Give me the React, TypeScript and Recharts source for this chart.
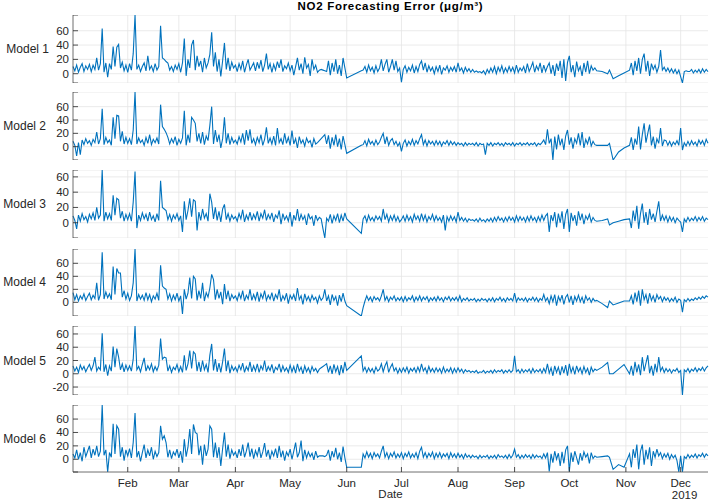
import React from 'react';
import { LineChart, Line, XAxis, YAxis, CartesianGrid, ReferenceLine } from 'recharts';

// ---------- time stamps (day of 2019, Jan 1 = 0) ----------
const range = (a: number, b: number) => {
  const r: number[] = [];
  for (let i = a; i <= b; i++) r.push(i);
  return r;
};
const days: number[] = [
  ...range(1, 150),
  151, 159,
  ...range(160, 288),
  291, 294, 295, 297, 300, 303,
  ...range(306, 349),
];

const monthTicks = [31, 59, 90, 120, 151, 181, 212, 243, 273, 304, 334];
const monthLabels = ['Feb', 'Mar', 'Apr', 'May', 'Jun', 'Jul', 'Aug', 'Sep', 'Oct', 'Nov', 'Dec'];

// ---------- forecasting errors (µg/m³) ----------
const model1 = [
  10, 4, 12, 2, 9, 14, 3, 11, 6, 13,
  3, 12, 6, 22, 5, 14, 63, 2, 15, -5,
  14, 6, 38, 10, 37, 41, 8, 16, 4, 12,
  2, 14, 5, 28, 82, 6, 12, 3, 10, 15,
  4, 25, 6, 11, 3, 14, 5, 10, 67, 22,
  20, 17, 15, 5, 10, 3, 12, 6, 14, 2,
  15, 49, -3, 20, 8, 40, 47, 5, 25, 10,
  18, 2, 22, 8, 15, 27, 58, 10, 30, 3,
  20, -4, 18, 43, 6, 22, 4, 16, 8, 12,
  3, 14, 6, 18, 2, 12, 20, 5, 10, 15,
  4, 16, 7, 19, 3, 12, 28, 6, 14, 2,
  13, 5, 17, 8, 20, 3, 11, 7, 15, 4,
  12, -2, 10, 22, 5, 14, 0, 23, 8, 13,
  -3, 20, 6, 12, 2, 5, 6, 5, 4, 3,
  18, -2, 15, 3, 20, 0, 12, -3, 22, 8,
  -6, 4,
  5, 10, 2, 12, 4, 9, 1, 11, 3, 8,
  20, 4, 13, 20, 2, 10, 20, 5, 18, 3,
  8, -12, 6, 11, 2, 9, 4, 12, 1, 10,
  3, 13, 18, 5, 15, 2, 11, 4, 9, 0,
  10, 3, 12, -1, 8, 5, 11, 2, 9, 4,
  10, 2, 15, 4, 8, 1, 9, 3, 7, 2,
  6, 2, 4, 2, 3, 1, 4, -1, 6, 1,
  8, 2, 10, 0, 9, 3, 11, 1, 8, 2,
  10, 3, 9, 1, 12, 2, 8, 4, 10, 1,
  14, 3, 9, 16, 2, 11, 5, 15, 1, 12,
  3, 10, 15, 0, 12, -3, 14, 4, 18, -6,
  20, -10, 16, 25, 2, 12, -5, 17, 4, 10,
  -3, 15, 2, 18, 0, 11, 5, 8, 4,
  3, 0, 5, -7, -3, 1,
  5, 15, -2, 18, 4, 22, 0, 20, 28, 3,
  18, -3, 14, 6, 12, 2, 10, 33, 5, 9,
  3, 8, 2, 7, 1, 6, 0, 5, -4, -13,
  3, 4, 3, 3, 6, 1, 5, 2, 6, 1,
  7, 2, 6, 3,
];

const model2 = [
  8, 2, -14, 6, -12, 10, 3, 12, 5, 9,
  2, 11, 6, 22, 4, 12, 57, 3, 14, 6,
  10, 2, 44, 12, 47, 46, 8, 23, 4, 14,
  5, 12, 3, 25, 82, 4, 13, 6, 10, 2,
  14, 5, 18, 3, 11, 6, 13, 4, 63, 30,
  26, 21, 14, 4, 12, 6, 15, 2, 11, 5,
  13, 54, 2, 18, 6, 44, 40, 35, 8, 20,
  5, 22, 3, 16, 9, 32, 60, 4, 25, 7,
  18, -2, 12, 44, 5, 20, 3, 14, 6, 10,
  4, 15, 7, 20, 3, 25, 9, 26, 5, 12,
  3, 14, 6, 18, 2, 11, 29, 5, 13, 4,
  16, 2, 28, 6, 12, 3, 20, 5, 14, 2,
  24, 4, 12, -2, 15, 5, 10, 1, 13, 6,
  9, -1, 12, 4, 6, 9, 12, 15, 18, 4,
  17, -3, 14, 2, 18, 0, 12, -4, 16, 3,
  -10, 2,
  3, 9, 1, 11, 4, 8, 2, 10, 3, 7,
  14, 20, 4, 15, 2, 9, 12, 3, 8, 1,
  6, -7, 5, 10, 1, 8, 3, 11, 2, 9,
  4, 12, 18, 3, 10, 1, 9, 4, 8, 2,
  9, 3, 8, 1, 7, 4, 9, 2, 8, 3,
  7, 2, 6, 3, 5, 1, 6, 2, 5, 3,
  5, 2, 6, 1, 5, 3, 4, -12, 5, 2,
  6, 1, 5, 3, 6, 2, 5, 1, 6, 3,
  5, 2, 6, 1, 5, 3, 6, 2, 5, 3,
  6, 2, 5, 3, 6, 1, 5, 3, 6, 10,
  3, 26, 5, 12, -20, 15, -4, 18, 2, 12,
  -5, 16, 25, 3, 14, -3, 12, 5, 20, 2,
  22, -2, 11, 4, 15, 1, 8, 3, 2,
  2, 2, 5, -20, -8, -2,
  2, 14, -5, 12, 3, 30, -4, 18, 35, 6,
  20, 33, 2, 15, -3, 12, 5, 28, 1, 10,
  9, 2, 8, 1, 7, 3, 9, 2, 28, -5,
  6, 1, 8, 2, 9, 3, 7, 1, 10, 4,
  9, 2, 11, 5,
];

const model3 = [
  9, 3, -8, 10, 2, 12, 4, 8, 1, 11,
  5, 13, 3, 20, 6, 10, 69, 2, 14, 5,
  12, 3, 36, 10, 32, 30, 6, 15, 2, 11,
  4, 12, 2, 27, 67, -7, 10, 3, 13, 5,
  11, 2, 14, 4, 9, 1, 12, 3, 55, 20,
  18, 16, 4, 11, 2, 10, 5, 12, 3, 9,
  -12, 28, 4, 16, 32, 8, 30, 28, -10, 14,
  3, 18, 6, 12, 2, 38, 27, 5, 20, 3,
  15, 1, 18, 24, 4, 12, 2, 10, 5, 8,
  2, 12, 5, 17, 1, 10, 4, 14, 3, 11,
  5, 15, 2, 12, 6, 17, 3, 11, 5, 13,
  1, 10, 6, 16, -2, 12, 4, 9, 2, 14,
  -5, 10, 3, 18, 2, 11, 4, 9, -3, 12,
  5, 8, -4, 10, 3, 7, 5, -8, -20, 6,
  2, 11, -1, 9, 3, 12, 0, 10, 2, 13,
  5, -14,
  5, 9, 1, 10, 3, 7, 2, 9, 4, 8,
  2, 18, 4, 11, 1, 9, 3, 10, 2, 8,
  1, 4, 9, 2, 10, 3, 8, 1, 11, 4,
  9, 2, 12, 3, 10, 1, 8, 4, 11, 2,
  9, 3, 7, 1, 10, -10, 8, 2, 9, 3,
  8, 1, 14, 3, 7, 2, 6, 1, 5, 3,
  4, 2, 5, 1, 6, 2, 4, 1, 5, 2,
  6, 1, 7, 2, 8, 3, 6, 1, 7, 2,
  8, 3, 7, 1, 9, 2, 8, 3, 7, 1,
  8, 2, 9, 3, 7, 1, 8, 2, 10, 3,
  9, 12, -12, 10, 2, 14, -6, 12, 0, 15,
  -8, 11, 18, -12, 13, 2, 10, -4, 15, 3,
  12, -2, 9, 4, 11, 1, 7, 3, 2,
  3, 5, -3, 0, 2, 4,
  5, -7, 16, 2, 22, -8, 12, 25, 0, 14,
  -3, 18, 4, 12, 1, 15, 28, 2, 10, 3,
  9, 1, 8, 2, 7, 0, 6, 3, 1, -12,
  5, 1, 7, 2, 6, 3, 8, 2, 7, 3,
  8, 2, 6, 4,
];

const model4 = [
  15, 4, 12, 2, 10, 5, 13, 3, 9, 14,
  4, 11, 6, 30, 3, 12, 77, 5, 16, 7,
  13, 4, 55, 12, 52, 45, 45, 8, 18, 5,
  14, 3, 10, 30, 82, 2, 12, 5, 11, 3,
  15, 4, 12, 1, 10, 5, 14, 3, 57, 25,
  22, 20, 5, 13, 2, 11, 4, 14, 2, 10,
  -18, 20, 5, 14, 38, 6, 40, 36, 3, 18,
  6, 30, 2, 15, 8, 22, 43, 35, 4, 20,
  6, 16, -3, 28, 5, 18, 2, 12, 6, 10,
  3, 14, 6, 18, 2, 11, 5, 20, 3, 12,
  4, 16, 1, 13, 6, 18, 3, 11, 5, 15,
  2, 12, 6, 20, 1, 10, 4, 14, -2, 11,
  5, 12, 2, 22, 4, 10, -3, 13, 3, 9,
  1, 11, 4, 8, -1, 10, 3, 7, 20, 2,
  10, -4, 12, 3, 9, -5, 11, 1, 14, 2,
  -5, -21,
  -8, 2, 10, 3, 8, 1, 9, 4, 7, 2,
  10, 20, 3, 9, 1, 8, 4, 10, 2, 7,
  3, 8, 1, 9, 2, 7, 4, 10, 1, 8,
  3, 10, 2, 8, 4, 9, 1, 7, 3, 8,
  2, 9, 3, 7, 1, 8, 4, 9, 2, 7,
  3, 8, 2, 10, 1, 6, 3, 7, 2, 5,
  3, 6, 1, 5, 2, 6, 3, 5, 1, 6,
  2, 7, 1, 6, 3, 8, 2, 6, 1, 7,
  3, 6, 2, 14, 1, 7, 3, 6, 2, 7,
  1, 6, 3, 8, 2, 7, 1, 6, 3, 12,
  2, 7, -2, 10, 1, 12, -5, 9, 2, 11,
  -3, 8, 12, 0, 10, -4, 9, 2, 11, 1,
  8, -2, 10, 3, 7, 0, 6, 2, 3,
  -2, -8, 2, -4, -1, 2,
  2, 10, -3, 15, 1, 18, -5, 20, 4, 12,
  -2, 14, 3, 10, 0, 12, 5, 9, 1, 8,
  3, 7, 1, 6, 2, 8, 0, 5, 3, -15,
  4, 1, 6, 2, 5, 3, 7, 4, 8, 5,
  9, 6, 10, 8,
];

const model5 = [
  12, 4, 10, 2, 13, 6, 11, 3, 9, 14,
  5, 12, 25, 4, 10, 6, 61, 3, 14, -3,
  12, 4, 41, 10, 38, 25, 6, 15, 3, 13,
  5, 12, 4, 22, 72, 6, 11, 3, 14, 24,
  4, 12, 6, 15, 3, 11, 5, 13, 53, 22,
  25, 24, 4, 12, 2, 10, 6, 14, 3, 11,
  2, 28, 5, 15, 35, 8, 33, 30, 4, 18,
  3, 20, 6, 14, 2, 28, 45, 5, 22, 3,
  16, 2, 18, 38, 4, 20, 1, 12, 5, 10,
  3, 13, 6, 16, 2, 11, 5, 18, 3, 12,
  4, 15, 2, 12, 6, 20, 3, 11, 5, 14,
  1, 10, 6, 15, 2, 12, 4, 9, 2, 13,
  3, 11, 1, 15, 4, 10, 0, 12, 3, 9,
  1, 11, 4, 8, 2, 7, 9, 11, 13, 15,
  2, 12, 0, 14, 3, 11, -2, 13, 1, 18,
  5, 27,
  4, 10, 2, 9, 3, 8, 1, 10, 4, 7,
  15, 3, 12, 18, 2, 10, 15, 4, 9, 1,
  8, 2, 9, 3, 10, 1, 8, 4, 9, 2,
  10, 3, 15, 4, 9, 1, 11, 3, 8, 2,
  9, 3, 8, 1, 10, 2, 7, 3, 9, 1,
  8, 2, 9, 3, 7, 1, 6, 3, 5, 2,
  4, 2, 5, 1, 3, 2, 5, 1, 4, 2,
  5, 1, 6, 2, 5, 3, 6, 1, 5, 2,
  6, 2, 5, 27, 3, 6, 1, 7, 2, 6,
  3, 7, 1, 8, 2, 6, 3, 7, 1, 8,
  2, 15, 1, 9, -3, 12, 2, 10, -2, 11,
  1, 13, -3, 15, 2, 10, -1, 12, 3, 9,
  0, 11, 2, 8, -2, 10, 3, 7, 5,
  10, 17, 0, 0, 7, 14,
  0, 12, -3, 18, 2, 14, -2, 25, 4, 16,
  28, 1, 12, -3, 15, 2, 25, 4, 10, 2,
  8, 3, 7, 1, 6, 4, 8, 2, 5, -32,
  6, 3, 8, 2, 7, 4, 9, 3, 8, 5,
  10, 4, 9, 12,
];

const model6 = [
  8, 2, 14, 0, 10, -3, 18, 4, 12, 20,
  2, 15, 6, 20, 4, 12, 81, 6, 14, -19,
  10, 3, 53, 8, 50, 45, 4, 18, -2, 14,
  5, 16, 2, 25, 69, 3, 12, -3, 10, 22,
  2, 14, 5, 18, 0, 12, 4, 10, 50, 30,
  35, 25, 3, 14, 1, 11, 6, 15, 2, 12,
  -5, 30, 4, 18, 45, 8, 52, 40, 38, 6,
  20, -8, 22, 5, 15, 50, 45, 3, 25, 2,
  18, -10, 16, 40, 4, 22, 1, 14, 6, 11,
  2, 15, 5, 22, 3, 12, 25, 4, 16, 1,
  13, 5, 18, 2, 11, 24, 4, 14, 0, 12,
  5, 16, 2, 20, 3, 13, -2, 11, 5, 15,
  0, 12, 25, 3, 10, 28, -3, 14, 2, 11,
  4, 9, -1, 12, 3, 5, 5, 5, 4, 6,
  14, -2, 12, 3, 17, 0, 10, -4, 19, 2,
  -12, -12,
  8, 2, 11, 3, 9, 1, 10, 4, 8, 2,
  12, 20, 3, 10, 1, 9, 4, 11, 2, 8,
  3, 10, 1, 9, 4, 11, 2, 8, 3, 10,
  1, 12, 18, 3, 10, 2, 9, 4, 11, 1,
  9, 3, 10, 2, 8, 4, 9, 1, 10, 3,
  8, 2, 9, 3, 7, 1, 8, 3, 6, 2,
  6, 3, 5, 1, 6, 2, 5, 3, 6, 1,
  5, 2, 6, 1, 7, 3, 5, 2, 6, 1,
  7, 2, 6, 15, 3, 7, 1, 6, 2, 7,
  3, 6, 1, 7, 2, 6, 3, 5, 1, 8,
  2, 10, -18, 8, -5, 12, 0, 9, -10, 11,
  -6, 14, 20, -18, 10, -4, 12, 2, -8, 9,
  -2, 11, 3, 8, -6, 10, 1, 5, 3,
  4, 5, 3, -15, -8, -12,
  8, -12, 15, 2, 22, -15, 12, 22, -8, 14,
  0, 18, -10, 12, 3, 15, 5, 10, 1, 8,
  3, 9, 0, 7, 2, 6, -2, -19, 5, -19,
  4, 1, 7, 2, 6, 3, 8, 2, 7, 4,
  9, 3, 8, 5,
];

const seriesList = [model1, model2, model3, model4, model5, model6];
const modelNames = ['Model 1', 'Model 2', 'Model 3', 'Model 4', 'Model 5', 'Model 6'];
const yDomains = [[-13, 82], [-20, 82], [-20, 69], [-21, 82], [-32, 72], [-19, 81]];
const yLabelTicks = [[0, 20, 40, 60], [0, 20, 40, 60], [0, 20, 40, 60], [0, 20, 40, 60], [-20, 0, 20, 40, 60], [0, 20, 40, 60]];

const rows = days.map((d, i) => {
  const r: any = { d };
  seriesList.forEach((s, k) => (r['m' + (k + 1)] = s[i]));
  return r;
});

// ---------- layout ----------
const FONT = '"Liberation Sans", Arial, Helvetica, sans-serif';
const W = 713;
const AXIS_X = 73;
const RIGHT = 5;
const LINE = '#0072BD';
const GRID = '#e4e4e4';
const DARK = '#262626';
const panelLayout = [
  { top: 15, h: 68, lx: 49 },
  { top: 91.5, h: 68, lx: 46 },
  { top: 170, h: 68, lx: 46 },
  { top: 248.5, h: 67, lx: 46 },
  { top: 326, h: 69, lx: 46 },
  { top: 405, h: 67, lx: 46 },
];
const XAXIS_H = 30;

const YTick = (props: any) => {
  const { y, payload, labels } = props;
  const v = payload.value;
  return (
    <g>
      <line x1={AXIS_X} x2={AXIS_X + 5} y1={y} y2={y} stroke={DARK} strokeWidth={0.8} />
      {labels.includes(v) ? (
        <text x={AXIS_X - 4} y={y} dy={4} textAnchor="end" fontSize={11.5} fill={DARK} fontFamily={FONT}>
          {v}
        </text>
      ) : null}
    </g>
  );
};

const XTick = (props: any) => {
  const { x, payload, plotBottom } = props;
  const idx = monthTicks.indexOf(payload.value);
  const lab = monthLabels[idx];
  return (
    <g>
      <line x1={x} x2={x} y1={plotBottom} y2={plotBottom - 5} stroke={DARK} strokeWidth={0.8} />
      <text x={x} y={plotBottom + 14.5} textAnchor="middle" fontSize={11.5} fill={DARK} fontFamily={FONT}>
        {lab}
      </text>
      {lab === 'Dec' ? (
        <text x={x + 4} y={plotBottom + 26.5} textAnchor="middle" fontSize={11.5} fill={DARK} fontFamily={FONT}>
          2019
        </text>
      ) : null}
    </g>
  );
};

function Panel({ k }: { k: number }) {
  const lay = panelLayout[k];
  const dom = yDomains[k];
  const last = k === 5;
  const ticks = [dom[0], ...yLabelTicks[k], dom[1]];
  const labels = yLabelTicks[k];
  return (
    <div style={{ position: 'absolute', left: 0, top: lay.top }}>
      <LineChart
        width={W}
        height={lay.h + (last ? XAXIS_H : 0)}
        data={rows}
        margin={{ top: 0, right: RIGHT, bottom: 0, left: 0 }}
      >
        <CartesianGrid horizontal vertical={false} stroke={GRID} strokeWidth={0.8} />
        {monthTicks.map((m) => (
          <ReferenceLine key={m} x={m} stroke={GRID} strokeWidth={0.8} />
        ))}
        <XAxis
          type="number"
          dataKey="d"
          domain={[1, 349]}
          ticks={monthTicks}
          interval={0}
          hide={!last}
          height={last ? XAXIS_H : 0}
          axisLine={{ stroke: '#5a5a5a', strokeWidth: 0.8 }}
          tickLine={false}
          tick={(p: any) => <XTick {...p} plotBottom={lay.h} />}
        />
        <YAxis
          type="number"
          domain={dom}
          ticks={ticks}
          interval={0}
          width={AXIS_X}
          axisLine={{ stroke: '#4a4a4a', strokeWidth: 0.8 }}
          tickLine={false}
          tick={(p: any) => <YTick {...p} labels={labels} />}
        />
        <Line
          type="linear"
          dataKey={'m' + (k + 1)}
          stroke={LINE}
          strokeWidth={1.1}
          dot={false}
          activeDot={false}
          isAnimationActive={false}
        />
      </LineChart>
    </div>
  );
}

export default function App() {
  return (
    <div
      style={{
        position: 'absolute',
        left: 0,
        top: 0,
        width: W,
        height: 501,
        background: '#fff',
        fontFamily: FONT,
        color: DARK,
        overflow: 'hidden',
      }}
    >
      <div
        style={{
          position: 'absolute',
          left: AXIS_X,
          width: W - AXIS_X - RIGHT,
          top: 0,
          textAlign: 'center',
          fontWeight: 'bold',
          fontSize: 11.5,
          letterSpacing: 0.7,
          lineHeight: '12px',
          color: '#000',
        }}
      >
        NO2 Forecasting Error (μg/m³)
      </div>
      {modelNames.map((n, k) => (
        <div
          key={n}
          style={{
            position: 'absolute',
            left: 0,
            width: panelLayout[k].lx,
            top: panelLayout[k].top + panelLayout[k].h / 2 - 7,
            lineHeight: '14px',
            fontSize: 12,
            textAlign: 'right',
            whiteSpace: 'nowrap',
          }}
        >
          {n}
        </div>
      ))}
      {modelNames.map((n, k) => (
        <Panel key={'p' + k} k={k} />
      ))}
      <div
        style={{
          position: 'absolute',
          left: AXIS_X,
          width: W - AXIS_X - RIGHT,
          top: 488,
          textAlign: 'center',
          fontSize: 11.5,
          lineHeight: '12px',
        }}
      >
        Date
      </div>
    </div>
  );
}
